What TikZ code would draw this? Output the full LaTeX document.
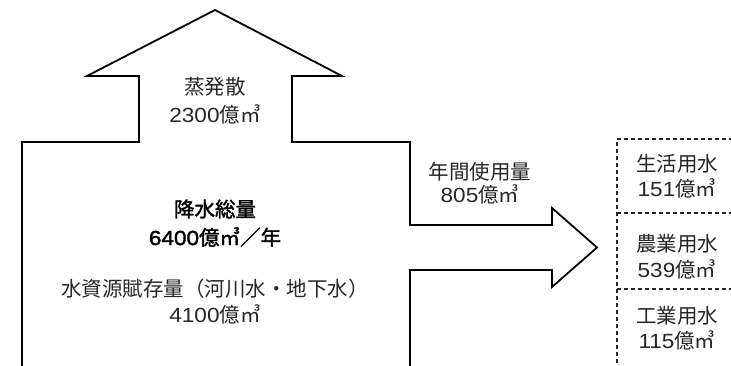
\documentclass[tikz,border=0pt]{standalone}
\usepackage{fontspec}
\setmainfont{Noto Sans CJK JP}
\newfontfamily\cjk{Noto Sans CJK JP}
\newfontfamily\cjkb{Noto Sans CJK JP}[UprightFeatures={FakeBold=1.6}]
\newfontfamily\digf{Liberation Sans}[FakeStretch=1.1]
\newfontfamily\digfb{Liberation Sans}[FakeStretch=1.1,UprightFeatures={FakeBold=1.6}]
\newcommand{\dg}[1]{{\digf #1}}
\newcommand{\dgb}[1]{{\digfb #1}}
\begin{document}
\begin{tikzpicture}[x=1pt,y=-1pt,
  outline/.style={line width=1.8pt, line join=miter},
  dashbox/.style={line width=1.2pt, dash pattern=on 4pt off 3pt, black!85},
  lbl/.style={font=\cjk\fontsize{20.5}{22}\selectfont, text=black!85, inner sep=0pt, align=center},
  blbl/.style={font=\cjkb\fontsize{20.5}{22}\selectfont, text=black, inner sep=0pt, align=center}]
\useasboundingbox (0,0) rectangle (731,366);
\fill[white] (0,0) rectangle (731,366);
% outline of arrows
\draw[outline] (22,368) -- (22,142) -- (139,142) -- (139,76) -- (87,76) -- (215,10) -- (342,76) -- (292,76) -- (292,142) -- (410,142) -- (410,225) -- (552,225) -- (552,208) -- (597,247.5) -- (552,287) -- (552,270) -- (410,270) -- (410,368);
% dashed box
\draw[dashbox] (733,139) -- (617,139) -- (617,368);
\draw[dashbox] (617,213) -- (733,213);
\draw[dashbox] (617,289) -- (733,289);
% texts
\node[lbl] (evap) at (215,87) {蒸発散};
\node[lbl] (evapv) at (215,114) {\dg{2300}億㎥};
\node[blbl] (rain) at (215,209) {降水総量};
\node[blbl] (rainv) at (215,237) {\dgb{6400}億㎥／年};
\node[lbl] (res) at (215,289) {水資源賦存量（河川水・地下水）};
\node[lbl] (resv) at (215,314) {\dg{4100}億㎥};
\node[lbl] (use) at (480,172) {年間使用量};
\node[lbl] (usev) at (480,194) {\dg{805}億㎥};
\node[lbl] (live) at (677,164) {生活用水};
\node[lbl] (livev) at (677,188) {\dg{151}億㎥};
\node[lbl] (agri) at (677,244) {農業用水};
\node[lbl] (agriv) at (677,269) {\dg{539}億㎥};
\node[lbl] (ind) at (677,316) {工業用水};
\node[lbl] (indv) at (677,340) {\dg{115}億㎥};
\end{tikzpicture}
\end{document}
